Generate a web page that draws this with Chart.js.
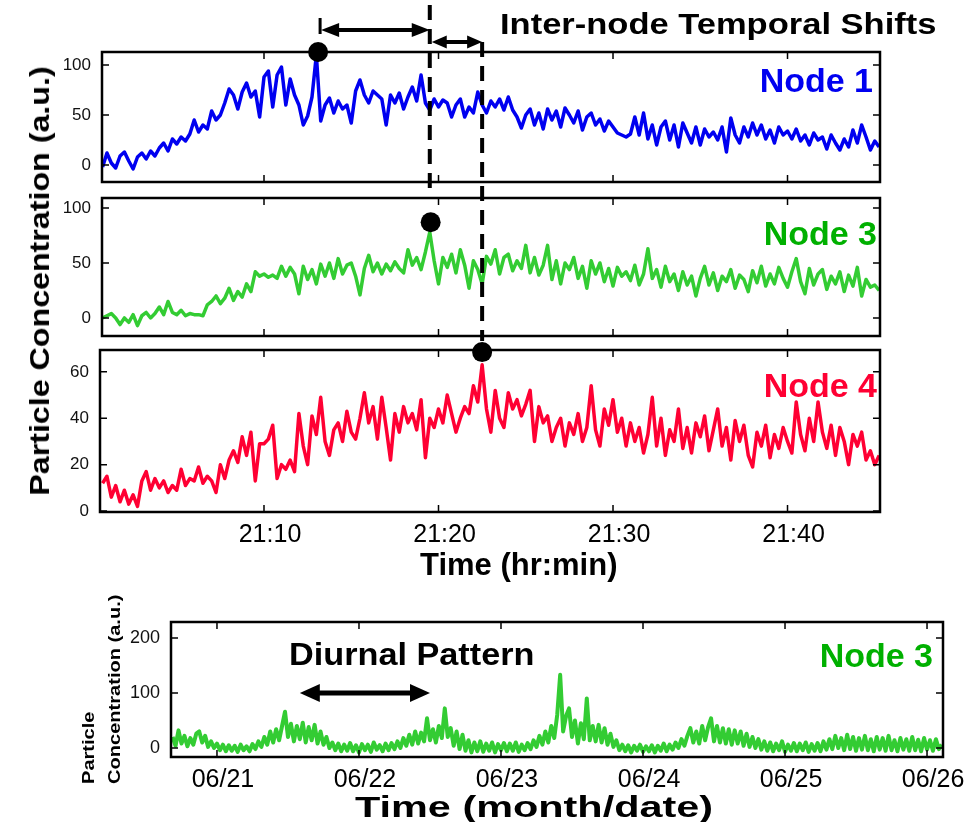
<!DOCTYPE html>
<html>
<head>
<meta charset="utf-8">
<script src="https://cdn.jsdelivr.net/npm/chart.js@4.4.1/dist/chart.umd.min.js"></script>
<style>
  body { margin: 0; background: #fff; }
  #wrap { position: relative; width: 967px; height: 822px; overflow: hidden; font-family: "Liberation Sans", Arial, sans-serif; }
  #wrap canvas { position: absolute; left: 0; top: 0; }
  .t { position: absolute; white-space: nowrap; font-weight: bold; line-height: 1; color: #000; }
  .rot { transform-origin: 0 0; }
</style>
</head>
<body>
<div id="wrap">
  <canvas id="c1" width="967" height="822"></canvas>
  <canvas id="c2" width="967" height="822"></canvas>
  <canvas id="c3" width="967" height="822"></canvas>
  <canvas id="c4" width="967" height="822"></canvas>

  <div class="t" style="left:500px;top:9px;font-size:30px;transform:scaleX(1.15);transform-origin:0 0">Inter-node Temporal Shifts</div>
  <div class="t" style="right:94px;top:63px;font-size:34px;color:#0000f0">Node 1</div>
  <div class="t" style="right:90px;top:216px;font-size:34px;color:#00b000">Node 3</div>
  <div class="t" style="right:90px;top:368px;font-size:34px;color:#ff0033">Node 4</div>
  <div class="t" style="left:40px;top:281px;font-size:28px;transform:translate(-50%,-50%) rotate(-90deg) scaleX(1.15)">Particle Concentration (a.u.)</div>
  <div class="t" style="left:420px;top:549px;font-size:31px">Time (hr:min)</div>

  <div class="t" style="left:289px;top:638px;font-size:32px;transform:scaleX(1.07);transform-origin:0 0">Diurnal Pattern</div>
  <div class="t" style="right:34px;top:638px;font-size:34px;color:#00b000">Node 3</div>
  <div class="t rot" style="left:80px;top:784px;font-size:17px;transform:rotate(-90deg) scaleX(1.18)">Particle</div>
  <div class="t rot" style="left:106px;top:784px;font-size:17px;transform:rotate(-90deg) scaleX(1.18)">Concentration (a.u.)</div>
  <div class="t" style="left:355px;top:792px;font-size:30px;transform:scaleX(1.38);transform-origin:0 0">Time (month/date)</div>
</div>

<script>
// ---- short run, 21:00 - 21:45, one sample every 15 s ----
const minuteStart = 0.75;
const minuteStep = 0.25;

const node1 = [-2,
  12, 2, -3, 9,   13, 4, -4, 8,   12, 6, 14, 9,   17, 22, 14, 26,   21, 28, 24, 31,
  45, 33, 40, 36,   54, 45, 50, 62,   76, 70, 56, 73,   82, 68, 74, 48,   88, 94, 58, 90,
  98, 60, 86, 70,   60, 40, 49, 68,   110, 44, 60, 67,   52, 64, 56, 60,   42, 74, 85, 70,
  62, 74, 70, 66,   40, 70, 62, 72,   56, 68, 78, 64,   90, 62, 55, 66,   58, 65, 62, 48,
  60, 66, 48, 58,   52, 73, 60, 52,   64, 58, 66, 55,   68, 55, 48, 37,   50, 56, 40, 52,
  36, 56, 45, 54,   38, 57, 50, 42,   54, 35, 48, 52,   40, 46, 34, 44,   38, 32, 30, 28,
  31, 48, 30, 52,   26, 40, 20, 38,   44, 25, 40, 18,   42, 32, 22, 38,   20, 36, 28, 33,
  25, 38, 13, 47,   30, 22, 38, 28,   42, 30, 40, 26,   35, 22, 38, 30,   34, 26, 36, 24,
  30, 20, 32, 25,   28, 16, 30, 22,   15, 26, 18, 35,   22, 40, 28, 15,
  24, 18];

const node3 = [0,
  2, 4, 0, -6,   0, -4, 3, -7,   2, 5, 0, 4,   10, 3, 15, 5,   3, 7, 2, 4,
  3, 3, 2, 12,   15, 20, 13, 18,   27, 16, 24, 19,   31, 24, 42, 38,   40, 37, 39, 36,
  47, 38, 46, 40,   22, 47, 35, 44,   31, 49, 38, 50,   36, 54, 40, 48,   50, 38, 21, 45,
  57, 42, 50, 40,   49, 43, 51, 45,   41, 62, 48, 55,   44, 60, 78, 52,   31, 55, 46, 58,
  41, 62, 48, 27,   52, 44, 31, 56,   49, 62, 40, 55,   58, 43, 52, 45,   66, 41, 55, 39,
  48, 66, 35, 52,   31, 50, 44, 55,   36, 47, 27, 52,   40, 50, 33, 45,   29, 46, 38, 42,
  34, 48, 30, 40,   63, 36, 44, 28,   47, 33, 40, 25,   42, 30, 38, 20,   36, 47, 30, 41,
  25, 38, 33, 44,   27, 39, 35, 24,   43, 32, 47, 29,   40, 31, 46, 36,   28, 42, 54, 33,
  22, 45, 30, 40,   44, 26, 38, 31,   42, 24, 39, 29,   46, 20, 35, 28,
  30, 25];

const node4 = [12,
  15, 6, 11, 4,   9, 3, 7, 2,   13, 17, 9, 14,   10, 13, 8, 11,   9, 18, 11, 14,
  13, 19, 12, 15,   13, 8, 20, 14,   22, 26, 21, 32,   24, 34, 13, 29,   29, 31, 37, 14,
  20, 18, 22, 17,   42, 28, 20, 41,   33, 49, 30, 24,   35, 38, 30, 43,   34, 31, 40, 51,
  38, 45, 31, 49,   36, 22, 42, 34,   45, 38, 42, 35,   48, 23, 40, 36,   44, 38, 50, 42,
  34, 40, 45, 42,   54, 47, 63, 44,   34, 52, 40, 36,   51, 44, 48, 41,   46, 52, 30, 45,
  38, 41, 30, 36,   40, 28, 38, 33,   42, 30, 36, 54,   35, 28, 44, 37,   48, 34, 40, 28,
  38, 30, 36, 25,   33, 49, 28, 40,   24, 35, 30, 44,   27, 36, 25, 38,   32, 41, 26, 35,
  44, 28, 36, 22,   39, 30, 37, 24,   19, 34, 28, 37,   23, 33, 27, 36,   30, 25, 47, 33,
  26, 40, 30, 47,   34, 27, 37, 24,   36, 30, 20, 33,   28, 34, 22, 26,
  20, 24];

const minuteTicks = [10, 20, 30, 40];
const node1Ticks = [0, 50, 100];
const node3Ticks = [0, 50, 100];
const node4Ticks = [0, 20, 40, 60];

// peak of each node (minute, value) and the shift marks
const peakMinutes = [13.1, 19.55, 22.5];
const peakValues = [113, 87, 68.5];
const shiftMarks = [13.1, 19.5, 22.5];

// ---- long run, hours after 06/21 00:00, one sample every 30 min ----
const weekHourStart = -7.5;
const weekHourStep = 0.5;
const node3Week = [
  20, 4, 32, 8, 22, 3, 18, 6, 26, 30, 10, 22,
  2, 12, 0, 8, -4, 6, -6, 5, -5, 4, -7, 6,
  -4, 3, -6, 7, -2, 12, 2, 20, 6, 30, 10, 34,
  14, 40, 66, 20, 44, 12, 40, 16, 46, 10, 38, 14,
  42, 8, 30, 6, 20, 0, 10, -4, 8, -6, 6, -5,
  9, -6, 5, -8, 7, -4, 6, -7, 10, -3, 5, -6,
  8, -4, 9, -2, 12, 0, 18, 4, 24, 6, 30, 8,
  28, 12, 54, 14, 34, 10, 40, 18, 72, 20, 36, 4,
  30, -2, 24, -5, 14, -8, 10, -6, 12, -7, 8, -5,
  10, -8, 7, -4, 9, -6, 8, -5, 10, -7, 6, -4,
  9, -2, 14, 2, 22, 6, 30, 10, 40, 18, 60, 133,
  30, 58, 72, 20, 50, 8, 45, 16, 90, 14, 40, 12,
  42, 10, 36, 6, 26, 2, 14, -4, 6, -6, 5, -8,
  4, -5, 6, -7, 3, -6, 5, -8, 4, -5, 8, -6,
  6, -3, 10, 0, 16, 4, 22, 36, 10, 30, 8, 40,
  14, 38, 54, 12, 40, 10, 36, 8, 34, 6, 32, 8,
  30, 4, 26, 2, 20, 0, 16, -3, 12, -5, 10, -6,
  8, -4, 12, -7, 6, -5, 9, -6, 8, -4, 10, -7,
  7, -5, 9, -6, 12, -3, 16, -2, 22, 0, 18, -4,
  24, -2, 20, -5, 18, -3, 22, -4, 16, -6, 20, -3,
  18, -5, 22, -4, 14, -6, 18, -3, 16, -5, 20, -4,
  15, -6, 18, -3, 14, -5, 16, -2, 6];

const dayTicks = [0, 24, 48, 72, 96, 120];
const dayLabels = ['06/21', '06/22', '06/23', '06/24', '06/25', '06/26'];
const weekTicks = [0, 100, 200];
const diurnalSpan = [14, 36];
const diurnalLevel = 100;

const W = 967, H = 822;
const FONT = '"Liberation Sans", Arial, sans-serif';
const Y_AXIS_W = 60, X_AXIS_H = 50;

function series(values, start, step) {
  return values.map((v, i) => ({ x: start + i * step, y: v }));
}

function line(ctx, x1, y1, x2, y2) {
  ctx.beginPath(); ctx.moveTo(x1, y1); ctx.lineTo(x2, y2); ctx.stroke();
}

function arrow(ctx, x1, x2, y, hl, hw, lw) {
  ctx.lineWidth = lw;
  line(ctx, x1 + hl - 2, y, x2 - hl + 2, y);
  ctx.beginPath(); ctx.moveTo(x1, y); ctx.lineTo(x1 + hl, y - hw); ctx.lineTo(x1 + hl, y + hw); ctx.closePath(); ctx.fill();
  ctx.beginPath(); ctx.moveTo(x2, y); ctx.lineTo(x2 - hl, y - hw); ctx.lineTo(x2 - hl, y + hw); ctx.closePath(); ctx.fill();
}

// box + inward ticks on all four sides
const frame = {
  id: 'frame',
  afterDatasetsDraw(chart, args, opts) {
    const { ctx, chartArea: a, scales: { x, y } } = chart;
    ctx.save();
    ctx.strokeStyle = '#000';
    ctx.lineWidth = 1.5;
    ctx.beginPath();
    opts.xTicks.forEach(v => {
      const px = x.getPixelForValue(v);
      ctx.moveTo(px, a.top); ctx.lineTo(px, a.top + 7);
      ctx.moveTo(px, a.bottom); ctx.lineTo(px, a.bottom - 7);
    });
    opts.yTicks.forEach(v => {
      const py = y.getPixelForValue(v);
      ctx.moveTo(a.left, py); ctx.lineTo(a.left + 7, py);
      ctx.moveTo(a.right, py); ctx.lineTo(a.right - 7, py);
    });
    ctx.stroke();
    ctx.lineWidth = 2.5;
    ctx.strokeRect(a.left, a.top, a.right - a.left, a.bottom - a.top);
    ctx.restore();
  }
};

// dashed marks and the two shift arrows
const shifts = {
  id: 'shifts',
  afterDraw(chart) {
    const { ctx, scales: { x } } = chart;
    const [xa, xb, xc] = shiftMarks.map(v => x.getPixelForValue(v));
    ctx.save();
    ctx.strokeStyle = '#000';
    ctx.fillStyle = '#000';
    ctx.lineWidth = 4;
    ctx.setLineDash([15, 9]);
    line(ctx, xb, 5, xb, 191);
    line(ctx, xc, 42, xc, 341);
    ctx.setLineDash([]);
    ctx.lineWidth = 3;
    line(ctx, xa + 2, 18, xa + 2, 34);
    arrow(ctx, xa + 3, xb, 30, 18, 7, 4);
    arrow(ctx, xb + 2, xc, 42, 15, 6.5, 4);
    ctx.restore();
  }
};

const diurnal = {
  id: 'diurnal',
  afterDraw(chart) {
    const { ctx, scales: { x, y } } = chart;
    ctx.save();
    ctx.strokeStyle = '#000';
    ctx.fillStyle = '#000';
    arrow(ctx, x.getPixelForValue(diurnalSpan[0]), x.getPixelForValue(diurnalSpan[1]),
      y.getPixelForValue(diurnalLevel), 20, 9, 5);
    ctx.restore();
  }
};

function panel(id, box, o) {
  const datasets = [];
  if (o.peak) {
    datasets.push({
      data: [o.peak], showLine: false, pointRadius: 10, pointHoverRadius: 10,
      pointBackgroundColor: '#000', pointBorderWidth: 0, clip: false, order: 0
    });
  }
  datasets.push({
    data: o.data, borderColor: o.color, borderWidth: o.width || 3.5, pointRadius: 0,
    tension: 0, borderJoinStyle: 'round', order: 1
  });
  const xh = o.xFormat ? X_AXIS_H : 0;
  return new Chart(document.getElementById(id), {
    type: 'line',
    data: { datasets },
    options: {
      responsive: false, animation: false, events: [], devicePixelRatio: 1,
      layout: { padding: { left: box.left - Y_AXIS_W, right: W - box.right, top: box.top, bottom: H - box.bottom - xh } },
      plugins: { legend: { display: false }, tooltip: { enabled: false }, frame: { xTicks: o.xTicks, yTicks: o.yTicks } },
      scales: {
        x: {
          type: 'linear', min: o.xMin, max: o.xMax, display: !!o.xFormat,
          grid: { display: false, drawTicks: false }, border: { display: false },
          afterFit: s => { s.height = xh; },
          afterBuildTicks: s => { s.ticks = o.xTicks.map(v => ({ value: v })); },
          ticks: {
            callback: o.xFormat || (v => v), autoSkip: false, maxRotation: 0,
            font: { family: FONT, size: 25 }, color: '#000', padding: 8, labelOffset: 6
          }
        },
        y: {
          type: 'linear', min: o.yMin, max: o.yMax,
          grid: { display: false, drawTicks: false }, border: { display: false },
          afterFit: s => { s.width = Y_AXIS_W; },
          afterBuildTicks: s => { s.ticks = o.yTicks.map(v => ({ value: v })); },
          ticks: { font: { family: FONT, size: o.yFont || 17 }, color: '#111', padding: 11 }
        }
      }
    },
    plugins: [frame].concat(o.extra || [])
  });
}

panel('c1', { left: 102, right: 880, top: 52, bottom: 182 }, {
  data: series(node1, minuteStart, minuteStep), color: '#0000f0',
  peak: { x: peakMinutes[0], y: peakValues[0] },
  xMin: 0.716, xMax: 45.30, yMin: -17, yMax: 113,
  xTicks: minuteTicks, yTicks: node1Ticks
});

panel('c2', { left: 102, right: 880, top: 198, bottom: 336 }, {
  data: series(node3, minuteStart, minuteStep), color: '#33cc33',
  peak: { x: peakMinutes[1], y: peakValues[1] },
  xMin: 0.716, xMax: 45.30, yMin: -16.4, yMax: 109.1,
  xTicks: minuteTicks, yTicks: node3Ticks
});

panel('c3', { left: 100, right: 880, top: 350, bottom: 512 }, {
  data: series(node4, minuteStart, minuteStep), color: '#ff0033',
  peak: { x: peakMinutes[2], y: peakValues[2] },
  xMin: 0.602, xMax: 45.30, yMin: -0.4, yMax: 69.4,
  xTicks: minuteTicks, yTicks: node4Ticks,
  xFormat: v => '21:' + v,
  extra: [shifts]
});

panel('c4', { left: 171, right: 943, top: 622, bottom: 757 }, {
  data: series(node3Week, weekHourStart, weekHourStep), color: '#33cc33', width: 4,
  xMin: -7.77, xMax: 122.7, yMin: -16.4, yMax: 229,
  xTicks: dayTicks, yTicks: weekTicks, yFont: 18,
  xFormat: (v, i) => dayLabels[i],
  extra: [diurnal]
});
</script>
</body>
</html>
